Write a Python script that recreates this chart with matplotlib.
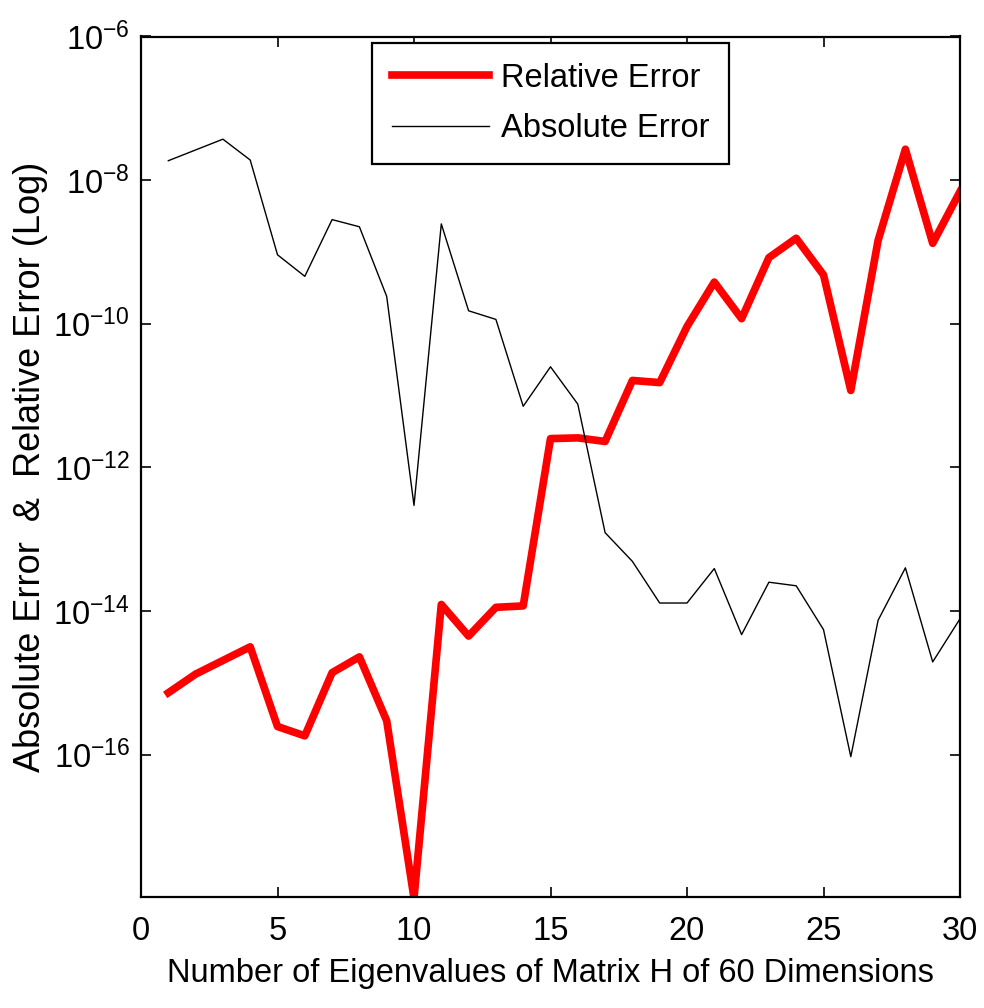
import numpy as np
import matplotlib
matplotlib.use('Agg')
import matplotlib.pyplot as plt
from matplotlib.ticker import FixedLocator, LogFormatterMathtext, NullLocator

# number of eigenvalues taken into account
n_eig = list(range(1, 31))

# log10 of the errors for each case
rel_err_log = [-15.14, -14.88, -14.69, -14.50, -15.61, -15.74, -14.86, -14.64, -15.53, -18.00,
               -13.91, -14.35, -13.95, -13.93, -11.60, -11.59, -11.64, -10.79, -10.82, -10.04,
               -9.42, -9.93, -9.08, -8.81, -9.32, -10.93, -8.84, -7.57, -8.88, -8.16]
abs_err_log = [-7.73, -7.58, -7.43, -7.72, -9.04, -9.34, -8.55, -8.65, -9.62, -12.53,
               -8.61, -9.82, -9.94, -11.15, -10.60, -11.12, -12.91, -13.31, -13.89, -13.89,
               -13.41, -14.33, -13.60, -13.65, -14.26, -16.03, -14.13, -13.40, -14.71, -14.11]

rel_err = 10.0 ** np.array(rel_err_log)
abs_err = 10.0 ** np.array(abs_err_log)

plt.rcParams['font.family'] = ['Liberation Sans', 'DejaVu Sans']
plt.rcParams['mathtext.fontset'] = 'custom'
plt.rcParams['mathtext.rm'] = 'Liberation Sans'
plt.rcParams['mathtext.it'] = 'Liberation Sans'

fig = plt.figure(figsize=(9.84, 10.08), dpi=100)
ax = fig.add_axes([141 / 984, 1 - 896.7 / 1008, 819 / 984, (896.7 - 36.5) / 1008])

ax.plot(n_eig, rel_err, color='red', lw=5.5, label='Relative Error')
ax.plot(n_eig, abs_err, color='black', lw=1.0, label='Absolute Error')

ax.set_yscale('log')
ax.set_xlim(0, 30)
ax.set_ylim(10 ** -17.98, 1e-6)
ax.yaxis.set_major_locator(FixedLocator([1e-16, 1e-14, 1e-12, 1e-10, 1e-8, 1e-6]))
ax.yaxis.set_major_formatter(LogFormatterMathtext())
ax.yaxis.set_minor_locator(NullLocator())
ax.set_xticks([0, 5, 10, 15, 20, 25, 30])

ax.tick_params(direction='in', top=True, right=True, length=7, width=1.2,
               labelsize=23.5)
ax.tick_params(axis='x', pad=14)
ax.tick_params(axis='y', pad=8)
for s in ax.spines.values():
    s.set_linewidth(1.6)

ax.set_xlabel('Number of Eigenvalues of Matrix H of 60 Dimensions', fontsize=23.5, labelpad=8)
ax.set_ylabel('Absolute Error  &  Relative Error (Log)', fontsize=26, labelpad=4)

leg = ax.legend(loc='upper center', fontsize=23.5, fancybox=False, framealpha=1,
                edgecolor='black', borderaxespad=0.2, handlelength=3.0,
                handletextpad=0.35, borderpad=0.6, labelspacing=0.6)
leg.get_frame().set_linewidth(1.6)

fig.savefig('out.png', dpi=100)
